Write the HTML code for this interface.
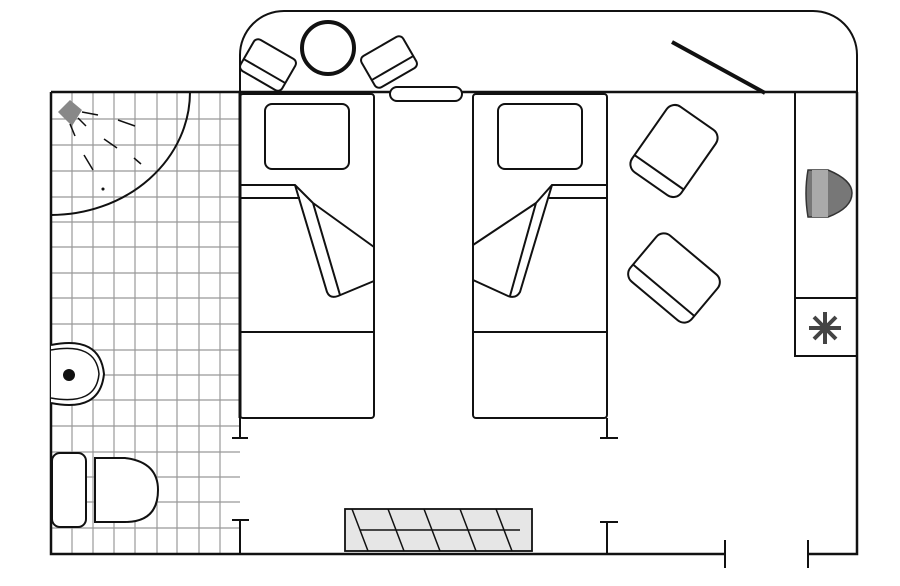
<!DOCTYPE html>
<html><head><meta charset="utf-8"><style>html,body{margin:0;padding:0;background:#fff}svg{display:block}</style></head>
<body>
<svg width="900" height="586" viewBox="0 0 900 586" xmlns="http://www.w3.org/2000/svg">
<rect width="900" height="586" fill="#fff"/>
<g stroke="#999" stroke-width="1.2">
<line x1="72" y1="92" x2="72" y2="554"/><line x1="93" y1="92" x2="93" y2="554"/><line x1="114" y1="92" x2="114" y2="554"/><line x1="135" y1="92" x2="135" y2="554"/><line x1="157" y1="92" x2="157" y2="554"/><line x1="177" y1="92" x2="177" y2="554"/><line x1="199" y1="92" x2="199" y2="554"/><line x1="220" y1="92" x2="220" y2="554"/>
<line x1="51" y1="119" x2="240" y2="119"/><line x1="51" y1="145" x2="240" y2="145"/><line x1="51" y1="171" x2="240" y2="171"/><line x1="51" y1="197" x2="240" y2="197"/><line x1="51" y1="222" x2="240" y2="222"/><line x1="51" y1="247" x2="240" y2="247"/><line x1="51" y1="273" x2="240" y2="273"/><line x1="51" y1="298" x2="240" y2="298"/><line x1="51" y1="324" x2="240" y2="324"/><line x1="51" y1="350" x2="240" y2="350"/><line x1="51" y1="375" x2="240" y2="375"/><line x1="51" y1="400" x2="240" y2="400"/><line x1="51" y1="426" x2="240" y2="426"/><line x1="51" y1="452" x2="240" y2="452"/><line x1="51" y1="477" x2="240" y2="477"/><line x1="51" y1="502" x2="240" y2="502"/><line x1="51" y1="528" x2="240" y2="528"/>
</g>
<g fill="none" stroke="#111" stroke-width="2">
<path d="M190 92 A139 123 0 0 1 51 215"/>
<path d="M240 92 V55 A44 44 0 0 1 284 11 H813 A44 44 0 0 1 857 55 V92"/>
<path d="M51 92 H857 M51 92 V554 H725 M808 554 H857 V92" stroke-width="2.5"/>
<line x1="240" y1="92" x2="240" y2="418" stroke-width="3"/>
<line x1="725" y1="540" x2="725" y2="568"/><line x1="808" y1="540" x2="808" y2="568"/>
<rect x="240" y="94" width="134" height="324" rx="3"/>
<rect x="265" y="104" width="84" height="65" rx="7"/>
<line x1="240" y1="332" x2="374" y2="332"/>
<path d="M240 185 H295 L313 203 M240 198 H300"/>
<path d="M295 185 L327 292 Q330 299 338 296 L374 281"/>
<path d="M313 203 L374 247 M313 203 L340 295"/>
<line x1="240" y1="418" x2="240" y2="438"/><line x1="232" y1="438" x2="248" y2="438"/>
<rect x="473" y="94" width="134" height="324" rx="3"/>
<rect x="498" y="104" width="84" height="65" rx="7"/>
<line x1="473" y1="332" x2="607" y2="332"/>
<path d="M607 185 H552 L536 203 M607 198 H549"/>
<path d="M552 185 L520 292 Q516 299 508 296 L473 280"/>
<path d="M536 203 L473 245 M536 203 L510 296"/>
<line x1="607" y1="418" x2="607" y2="438"/><line x1="600" y1="438" x2="618" y2="438"/>
<line x1="240" y1="520" x2="240" y2="554"/><line x1="232" y1="520" x2="249" y2="520"/>
<line x1="607" y1="522" x2="607" y2="554"/><line x1="600" y1="522" x2="618" y2="522"/>
<rect x="345" y="509" width="187" height="42" fill="#e6e6e6" stroke-width="1.8"/>
<path d="M352 509 L368 551 M388 509 L404 551 M424 509 L440 551 M460 509 L476 551 M496 509 L512 551 M360 530 H520" stroke-width="1.5"/>
<circle cx="328" cy="48" r="26" stroke-width="4"/>
<g transform="translate(268 65) rotate(30)"><rect x="-24" y="-18" width="48" height="36" rx="5"/><line x1="-24" y1="7" x2="24" y2="7"/></g>
<g transform="translate(389 62) rotate(-30)"><rect x="-24" y="-18" width="48" height="36" rx="5"/><line x1="-24" y1="7" x2="24" y2="7"/></g>
<rect x="390" y="87" width="72" height="14" rx="7" fill="#fff"/>
<line x1="672" y1="42" x2="765" y2="93" stroke-width="4"/>
<g transform="translate(674 151) rotate(-55)"><rect x="-40" y="-30" width="80" height="60" rx="10"/><line x1="-26" y1="-30" x2="-26" y2="30"/></g>
<g transform="translate(674 278) rotate(40)"><rect x="-40" y="-30" width="80" height="60" rx="10"/><line x1="-40" y1="16" x2="40" y2="16"/></g>
<line x1="795" y1="92" x2="795" y2="356"/>
<rect x="795" y="298" width="62" height="58"/>
<path d="M51 345 Q100 335 104 374 Q100 413 51 403" stroke-width="2" fill="#fff"/>
<path d="M51 350 Q96 342 99 374 Q96 406 51 398" stroke-width="1.5"/>
<rect x="52" y="453" width="34" height="74" rx="8" fill="#fff"/>
<path d="M95 458 H125 Q158 462 158 490 Q158 522 125 522 H95 Z" fill="#fff"/>
</g>
<circle cx="69" cy="375" r="6" fill="#111"/>
<polygon points="58,112 70,100 82,110 72,126" fill="#888"/>
<g stroke="#111" stroke-width="1.5"><line x1="82" y1="112" x2="98" y2="115"/><line x1="78" y1="118" x2="86" y2="126"/><line x1="70" y1="124" x2="75" y2="136"/><line x1="118" y1="120" x2="135" y2="126"/><line x1="104" y1="139" x2="117" y2="148"/><line x1="84" y1="155" x2="93" y2="170"/><line x1="134" y1="158" x2="141" y2="164"/><circle cx="103" cy="189" r="0.8"/></g>
<path d="M808 170 H828 Q852 180 852 193 Q852 208 828 217 H808 Q804 193 808 170Z" fill="#777" stroke="#333" stroke-width="1.5"/>
<rect x="812" y="170" width="16" height="47" fill="#aaa"/>
<g stroke="#444" stroke-width="4"><line x1="825" y1="312" x2="825" y2="344"/><line x1="809" y1="328" x2="841" y2="328"/><line x1="814" y1="317" x2="836" y2="339"/><line x1="836" y1="317" x2="814" y2="339"/></g>
</svg>
</body></html>
